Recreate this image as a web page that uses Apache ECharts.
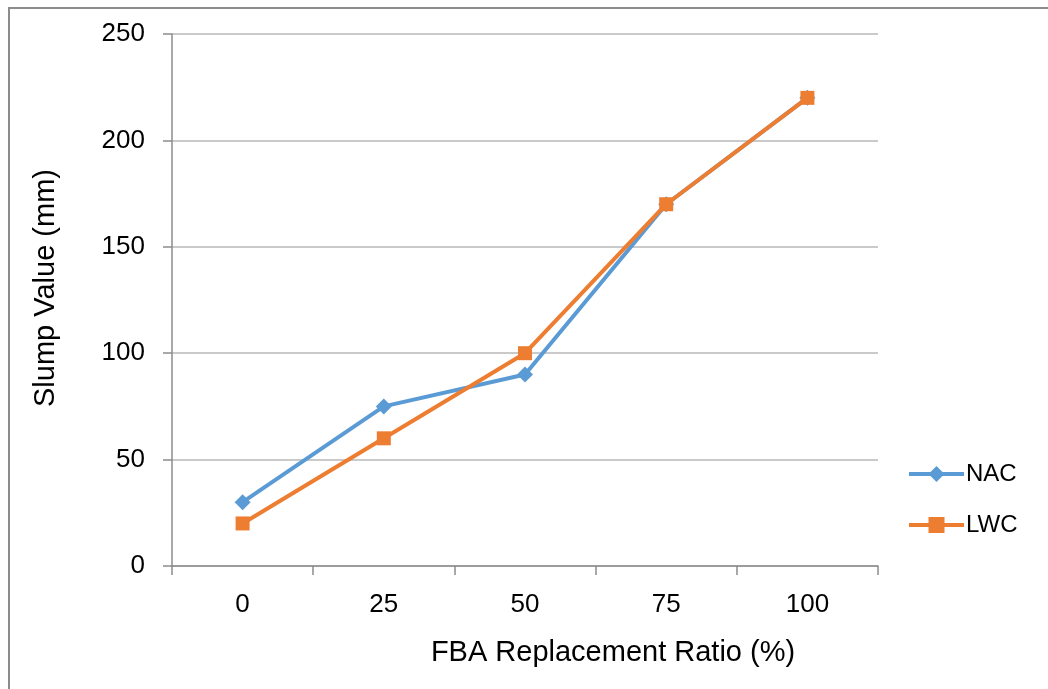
<!DOCTYPE html>
<html>
<head>
<meta charset="utf-8">
<script src="https://cdn.jsdelivr.net/npm/echarts@6/dist/echarts.min.js"></script>
<style>
  html, body { margin: 0; padding: 0; background: #fff; }
  #frame { position: absolute; left: 8px; top: 7px; right: 0; bottom: 0;
           border-top: 2px solid #8c8c8c; border-left: 2px solid #8c8c8c; }
  #chart { position: absolute; left: 0; top: 0; width: 1048px; height: 689px; }
</style>
</head>
<body>
<div id="frame"></div>
<div id="chart"></div>
<script>
const categories = ['0', '25', '50', '75', '100'];
const nacValues = [30, 75, 90, 170, 220];
const lwcValues = [20, 60, 100, 170, 220];
const yTicks = { min: 0, max: 250, interval: 50 };

const font = 'Liberation Sans, Arial, sans-serif';
const chart = echarts.init(document.getElementById('chart'), null, { renderer: 'canvas' });

chart.setOption({
  backgroundColor: 'transparent',
  animation: false,
  grid: { left: 172, right: 170, top: 34, bottom: 123, containLabel: false },
  legend: {
    orient: 'vertical',
    left: 902,
    top: 457,
    itemWidth: 55,
    itemHeight: 20,
    itemGap: 27,
    lineStyle: { width: 4 },
    textStyle: { fontFamily: font, fontSize: 24, color: '#000', padding: [0, 0, 0, -3] },
    data: ['NAC', 'LWC']
  },
  xAxis: {
    type: 'category',
    data: categories,
    boundaryGap: true,
    name: 'FBA Replacement Ratio (%)',
    nameLocation: 'middle',
    nameGap: 72,
    nameTextStyle: { fontFamily: font, fontSize: 29, color: '#000', padding: [0, 0, 0, 176] },
    axisLine: { lineStyle: { color: '#8c8c8c', width: 1.5 } },
    axisTick: { show: true, length: 9, alignWithLabel: false, lineStyle: { color: '#8c8c8c', width: 1.5 } },
    axisLabel: { fontFamily: font, fontSize: 26, color: '#000', margin: 26 },
    splitLine: { show: false }
  },
  yAxis: {
    type: 'value',
    min: yTicks.min,
    max: yTicks.max,
    interval: yTicks.interval,
    name: 'Slump Value (mm)',
    nameLocation: 'middle',
    nameGap: 112,
    nameRotate: 90,
    nameTextStyle: { fontFamily: font, fontSize: 29, color: '#000', padding: [0, 0, 0, 24] },
    axisLine: { show: true, lineStyle: { color: '#8c8c8c', width: 1.5 } },
    axisTick: { show: true, length: 9, lineStyle: { color: '#8c8c8c', width: 1.5 } },
    axisLabel: { fontFamily: font, fontSize: 26, color: '#000', margin: 27 },
    splitLine: { show: true, lineStyle: { color: '#b8b8b8', width: 1.5 } }
  },
  series: [
    {
      name: 'NAC',
      type: 'line',
      data: nacValues,
      color: '#5b9bd5',
      lineStyle: { width: 4, color: '#5b9bd5' },
      symbol: 'diamond',
      symbolSize: 16,
      itemStyle: { color: '#5b9bd5' },
      z: 3
    },
    {
      name: 'LWC',
      type: 'line',
      data: lwcValues,
      color: '#ed7d31',
      lineStyle: { width: 4, color: '#ed7d31' },
      symbol: 'rect',
      symbolSize: 14,
      itemStyle: { color: '#ed7d31' },
      z: 4
    }
  ]
});
</script>
</body>
</html>
